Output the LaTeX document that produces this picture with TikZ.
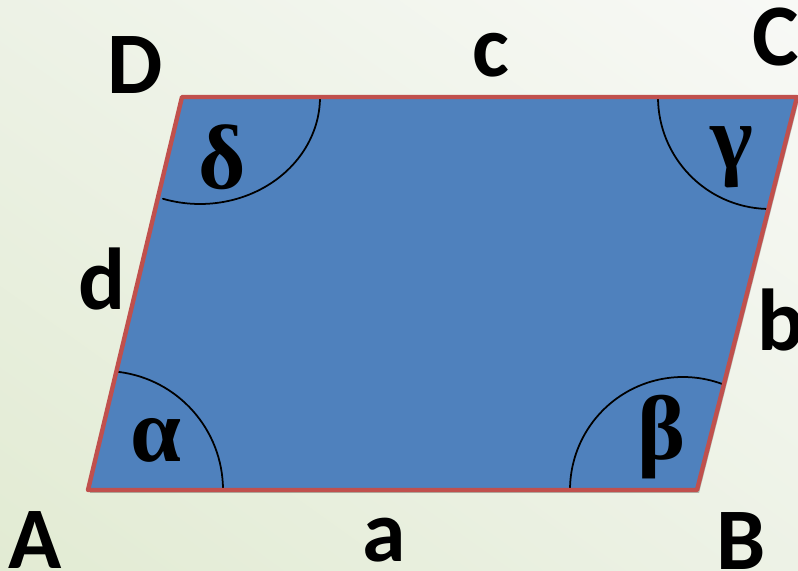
\documentclass[tikz,border=0pt]{standalone}
\usepackage{fontspec}
\usetikzlibrary{shadings}
\newfontfamily\lblfont{Carlito}
\newfontfamily\grkfont{Liberation Serif}
\definecolor{bgleft}{HTML}{E2EBD3}
\definecolor{bgmid}{HTML}{EDF2E6}
\definecolor{bgright}{HTML}{F8F9F6}
\definecolor{pfill}{HTML}{4F81BD}
\definecolor{pedge}{HTML}{C0504D}
\begin{document}
\begin{tikzpicture}[x=0.02cm,y=0.02cm,line cap=round,line join=round,
  vlabel/.style={font={\lblfont\bfseries\fontsize{50}{50}\selectfont},inner sep=0pt},
  glabel/.style={font={\grkfont\bfseries\fontsize{52}{52}\selectfont},inner sep=0pt},
  anglearc/.style={line width=1pt,black}]
  \useasboundingbox (0,0) rectangle (798,571);
  \shade[lower left=bgleft,upper right=bgright,upper left=bgmid,lower right=bgmid] (0,0) rectangle (798,571);
  \coordinate (A) at (88,81);  \coordinate (B) at (697,81);
  \coordinate (C) at (797,474); \coordinate (D) at (182,474);
  % shadow, fill
  \fill[black,opacity=0.25] ([shift={(2,-3)}]A)--([shift={(2,-3)}]B)--([shift={(2,-3)}]C)--([shift={(2,-3)}]D)--cycle;
  \fill[pfill] (A)--(B)--(C)--(D)--cycle;
  % angle arcs
  \draw[anglearc] (223,81) arc[start angle=0,end angle=83,radius=119];
  \draw[anglearc] (570,81) arc[start angle=180,end angle=69,radius=113];
  \draw[anglearc] (658,474) arc[start angle=180,end angle=268,radius=112];
  \draw[anglearc] (320,474) arc[start angle=0,end angle=-108,x radius=120,y radius=107];
  \draw[pedge,line width=2.5pt] (A)--(B)--(C)--(D)--cycle;
  % vertices and sides
  \node[vlabel] (lA) at (35,31) {A};   \node[vlabel] (lB) at (741,30) {B};
  \node[vlabel] (lC) at (776,534) {C}; \node[vlabel] (lD) at (135,506) {D};
  \node[vlabel] (la) at (384,31) {a};  \node[vlabel] (lb) at (781,251) {b};
  \node[vlabel] (lc) at (491,516) {c}; \node[vlabel] (ld) at (102,292) {d};
  % angles
  \node[glabel] (alpha) at (156,131) {α}; \node[glabel] (beta) at (662,134) {β};
  \node[glabel] (gamma) at (732,414) {γ}; \node[glabel] (delta) at (222,414) {δ};
\end{tikzpicture}
\end{document}
